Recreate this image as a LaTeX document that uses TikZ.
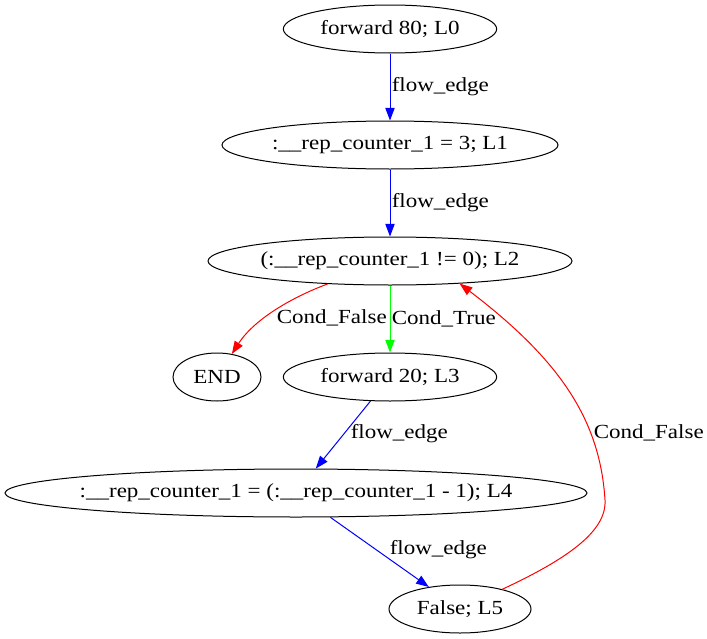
\documentclass[tikz,border=0pt]{standalone}
\usepackage{fontspec}
\setmainfont{Liberation Serif}[FakeStretch=1.15]
\usetikzlibrary{arrows.meta,shapes,positioning}
\tikzset{
	stmt/.style={
		ellipse,
		draw=black,
		line width=0.75pt,
		inner sep=0pt,
		minimum height=36pt
	},
	flow/.style={
		draw=blue,
		line width=0.75pt,
		-{Triangle[length=9.5pt,width=7pt]}
	},
	condfalse/.style={
		flow,
		draw=red
	},
	condtrue/.style={
		flow,
		draw=green
	},
	lbl/.style={
		inner sep=1pt,
		anchor=west
	},
}
\newcommand{\inbox}[1]{\makebox[0pt]{#1}}

\begin{document}
\begin{tikzpicture}[x=0.75pt,y=-0.75pt,node distance=87pt,on grid,font=\fontsize{15pt}{18pt}\selectfont]
\useasboundingbox (0,0) rectangle (707,639);
\node[stmt,minimum width=160pt] (l0) at (390,29) {\inbox{forward 80; L0}};
\node[stmt,minimum width=252pt] (l1) [below=of l0] {\inbox{:\_\_rep\_counter\_1 = 3; L1}};
\node[stmt,minimum width=273pt] (l2) [below=of l1] {\inbox{(:\_\_rep\_counter\_1 != 0); L2}};
\node[stmt,minimum width=160pt] (l3) [below=of l2] {\inbox{forward 20; L3}};
\node[stmt,minimum width=66pt] (end) [left=129.75pt of l3] {\inbox{END}};
\node[stmt,minimum width=436.5pt] (l4) [below=of l3,xshift=-70.5pt] {\inbox{:\_\_rep\_counter\_1 = (:\_\_rep\_counter\_1 - 1); L4}};
\node[stmt,minimum width=106.5pt] (l5) [below=of l4,xshift=123pt] {\inbox{False; L5}};
\coordinate (bend) at (605,500);
% edges
\draw[flow] (l0) -- node[lbl] {flow\_edge} (l1);
\draw[flow] (l1) -- node[lbl] {flow\_edge} (l2);
\draw[condfalse] (l2) .. controls (295,296) and (255,318) .. (end) node[lbl] at (275,318) {Cond\_False};
\draw[condtrue] (l2) -- node[lbl] {Cond\_True} (l3);
\draw[flow] (l3) -- (l4) node[lbl] at (349,434) {flow\_edge};
\draw[flow] (l4) -- (l5) node[lbl] at (388,550) {flow\_edge};
\draw[condfalse] (l5) .. controls (565,560) and (607,532) .. (bend)
	.. controls (600,420) and (560,360) .. (l2.-18) node[lbl] at (592,433) {Cond\_False};
\end{tikzpicture}
\end{document}
